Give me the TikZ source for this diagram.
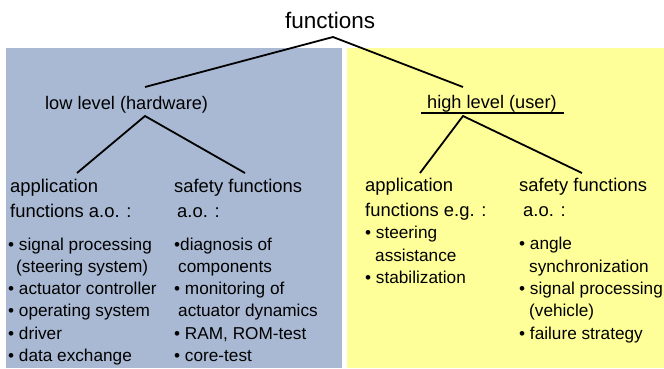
\documentclass[tikz,border=0pt]{standalone}
\usepackage{fontspec}
\setmainfont{Liberation Sans}
\definecolor{lowblue}{RGB}{169,185,211}
\definecolor{highyellow}{RGB}{255,255,153}
\begin{document}
\begin{tikzpicture}[x=1pt,y=-1pt,
  txt/.style={inner sep=0pt, anchor=base west, align=left, font=\fontsize{18.2}{22.3}\selectfont},
  hdr/.style={txt, font=\fontsize{18.4}{25}\selectfont},
  lst/.style={txt, font=\fontsize{17.2}{22.3}\selectfont},
  titlefont/.style={inner sep=0pt, anchor=base west, font=\fontsize{22.5}{26}\selectfont},
  branch/.style={draw=black, line width=1.8pt}]
\useasboundingbox (0,0) rectangle (664,368);
\fill[lowblue] (6,48) rectangle (342,368);
\fill[highyellow] (347,48) rectangle (664,368);

\node[titlefont] (title) at (285,28.3) {functions};
\node[txt] (low) at (45,109) {low level (hardware)};
\node[txt] (high) at (427,108.5) {high level (user)};

% multi-line nodes: base anchor is the baseline of the last line
\node[hdr] (lapph) at (10,217.5) {application\\functions a.o. :};
\node[lst] (lappl) at (8,361.5) {• signal processing\\\hspace{8pt}(steering system)\\• actuator controller\\• operating system\\• driver\\• data exchange};
\node[hdr] (lsafh) at (174,217.5) {safety functions\\\hspace{3pt}a.o. :};
\node[lst] (lsafl) at (174,361.5) {•diagnosis of\\\hspace{4pt}components\\• monitoring of\\\hspace{4pt}actuator dynamics\\• RAM, ROM-test\\• core-test};

\node[hdr] (happh) at (365,216) {application\\functions e.g. :};
\node[lst] (happl) at (365,283.5) {• steering\\\hspace{10pt}assistance\\• stabilization};
\node[hdr] (hsafh) at (519,216) {safety functions\\\hspace{4pt}a.o. :};
\node[lst] (hsafl) at (519,339) {• angle\\\hspace{10pt}synchronization\\• signal processing\\\hspace{10pt}(vehicle)\\• failure strategy};

\coordinate (topA) at (333,37);
\coordinate (lowT) at (145,87);
\coordinate (highT) at (463,87);
\coordinate (lowB) at (145,116);
\coordinate (highB) at (463,116);
\coordinate (lappT) at (77,173);
\coordinate (lsafT) at (245,173);
\coordinate (happT) at (420,173);
\coordinate (hsafT) at (582,173);
\coordinate (ulL) at (421,113);
\coordinate (ulR) at (564,113);

\draw[branch] (lowT) -- (topA) -- (highT);
\draw[branch] (lappT) -- (lowB) -- (lsafT);
\draw[branch] (happT) -- (highB) -- (hsafT);
\draw[draw=black, line width=1.8pt] (ulL) -- (ulR);
\end{tikzpicture}
\end{document}
